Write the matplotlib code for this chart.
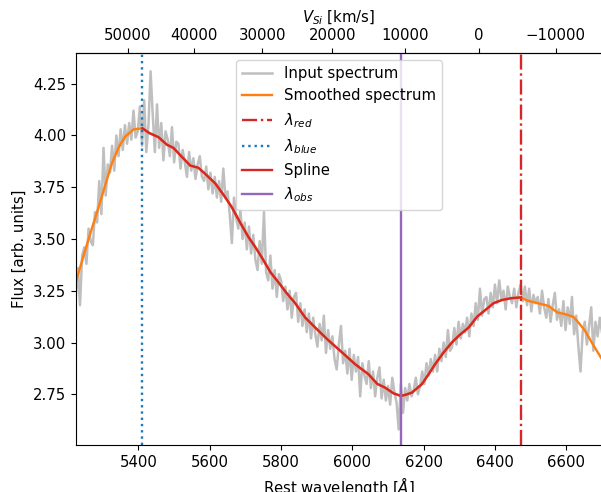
import numpy as np
import matplotlib
matplotlib.use("Agg")
import matplotlib.pyplot as plt

plt.rcParams["font.size"] = 10.7

# velocity of Si II 6355 line
c_kms = 299792.458
lam0 = 6355.0

lam_blue = 5411.0
lam_red = 6473.0
lam_obs = 6136.0

# input spectrum
wl = np.arange(5224, 6701, 6)
flux = [
    3.22, 3.36, 3.18, 3.42, 3.46, 3.38, 3.55, 3.49, 3.47, 3.63, 3.58, 3.78,
    3.62, 3.94, 3.71, 3.86, 3.82, 3.95, 3.83, 4.00, 3.90, 4.03, 3.93, 4.05,
    3.96, 4.06, 3.98, 4.12, 3.99, 4.02, 4.14, 3.95, 4.17, 3.92, 4.05, 4.31,
    4.10, 3.92, 4.15, 3.94, 4.06, 3.88, 4.02, 3.98, 3.90, 4.04, 3.87, 3.97,
    3.96, 3.84, 3.93, 3.87, 3.80, 3.92, 3.83, 3.89, 3.79, 3.86, 3.90, 3.80,
    3.78, 3.85, 3.74, 3.82, 3.72, 3.80, 3.70, 3.78, 3.68, 3.84, 3.70, 3.73,
    3.62, 3.48, 3.70, 3.60, 3.55, 3.64, 3.50, 3.58, 3.45, 3.56, 3.43, 3.52,
    3.40, 3.35, 3.49, 3.38, 3.63, 3.34, 3.30, 3.42, 3.26, 3.35, 3.22, 3.33,
    3.30, 3.20, 3.27, 3.16, 3.25, 3.12, 3.22, 3.24, 3.10, 3.19, 3.08, 3.16,
    3.05, 3.14, 3.02, 3.12, 3.04, 2.98, 3.09, 3.01, 3.13, 2.95, 3.06, 2.97,
    3.03, 2.92, 2.87, 2.99, 3.08, 2.90, 2.96, 2.85, 2.97, 2.82, 2.94, 2.86,
    2.93, 2.74, 2.90, 2.84, 2.80, 2.91, 2.78, 2.86, 2.74, 2.83, 2.88, 2.73,
    2.82, 2.72, 2.79, 2.70, 2.83, 2.76, 2.71, 2.58, 2.80, 2.66, 2.78, 2.72,
    2.80, 2.74, 2.77, 2.83, 2.75, 2.79, 2.86, 2.80, 2.90, 2.84, 2.92, 2.86,
    2.94, 2.86, 2.97, 2.91, 3.00, 2.93, 3.06, 2.96, 2.98, 3.07, 2.99, 3.10,
    3.02, 3.09, 3.05, 3.12, 3.03, 3.14, 3.08, 3.19, 3.11, 3.26, 3.13, 3.21,
    3.22, 3.14, 3.24, 3.17, 3.28, 3.19, 3.30, 3.21, 3.25, 3.16, 3.27, 3.22,
    3.19, 3.26, 3.17, 3.24, 3.28, 3.20, 3.27, 3.18, 3.26, 3.15, 3.23, 3.19,
    3.22, 3.14, 3.25, 3.17, 3.12, 3.21, 3.10, 3.18, 3.24, 3.11, 3.16, 3.08,
    3.20, 3.06, 3.17, 3.09, 3.22, 3.04, 3.13, 2.98, 2.86, 3.05, 3.10, 2.99,
    3.08, 3.17, 2.96, 3.10, 3.03, 3.12, 3.05,
]

# smoothed spectrum
smooth_wl = [5224, 5250, 5270, 5288, 5305, 5325, 5345, 5363, 5386, 5411,
             5430, 5456, 5480, 5498, 5520, 5545, 5568, 5590, 5615, 5640,
             5662, 5685, 5709, 5728, 5746, 5770, 5793, 5815, 5840, 5868,
             5896, 5930, 5966, 6008, 6045, 6070, 6092, 6115, 6136, 6150,
             6167, 6195, 6215, 6232, 6255, 6279, 6300, 6326, 6350, 6373,
             6396, 6419, 6445, 6473, 6490, 6513, 6550, 6575, 6597, 6620,
             6635, 6653, 6675, 6700]
smooth_flux = [3.29, 3.443, 3.555, 3.653, 3.75, 3.863, 3.945, 3.995, 4.029, 4.035,
               4.012, 3.992, 3.955, 3.94, 3.90, 3.855, 3.844, 3.81, 3.769, 3.71,
               3.653, 3.58, 3.508, 3.46, 3.411, 3.34, 3.29, 3.24, 3.189, 3.12,
               3.072, 3.015, 2.96, 2.895, 2.847, 2.80, 2.782, 2.755, 2.742, 2.748,
               2.758, 2.799, 2.85, 2.895, 2.95, 3.00, 3.035, 3.072, 3.125, 3.157,
               3.19, 3.205, 3.214, 3.218, 3.203, 3.193, 3.177, 3.145, 3.137, 3.124,
               3.095, 3.056, 2.99, 2.92]

top_ticks = [50000, 40000, 30000, 20000, 10000, 0, -10000]


def lam2v(lam):
    r = (lam0 / np.asarray(lam, dtype=float)) ** 2
    return c_kms * (r - 1) / (r + 1)


def v2lam(v):
    b = np.asarray(v, dtype=float) / c_kms
    return lam0 * np.sqrt((1 - b) / (1 + b))


fig = plt.figure(figsize=(6.01, 4.92), dpi=100)
ax = fig.add_axes([0.126, 0.0955, 0.8755, 0.7975])

swl = np.array(smooth_wl)
sfl = np.array(smooth_flux)
m = (swl >= lam_blue) & (swl <= lam_red)

ax.plot(wl, flux, color="#bfbfbf", lw=1.8, label="Input spectrum")
ax.plot(swl, sfl, color="tab:orange", lw=1.7, label="Smoothed spectrum")
ax.axvline(lam_red, color="tab:red", ls="-.", lw=1.7, label=r"$\lambda_{red}$")
ax.axvline(lam_blue, color="tab:blue", ls=":", lw=1.7, label=r"$\lambda_{blue}$")
ax.plot(swl[m], sfl[m], color="tab:red", lw=1.7, label="Spline")
ax.axvline(lam_obs, color="tab:purple", lw=1.7, label=r"$\lambda_{obs}$")

ax.set_xlim(5224, 6700)
ax.set_ylim(2.505, 4.40)
ax.set_xlabel(r"Rest wavelength [$\AA$]")
ax.set_ylabel("Flux [arb. units]")
ax.legend(loc="upper center")

sec = ax.secondary_xaxis("top", functions=(lam2v, v2lam))
sec.set_xticks(top_ticks)
sec.set_xlabel(r"$V_{Si}$ [km/s]")

fig.savefig("out.png", dpi=100)
